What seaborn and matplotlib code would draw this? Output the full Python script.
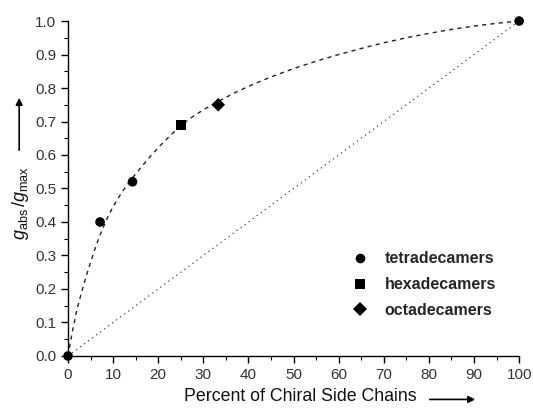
import matplotlib
matplotlib.use("Agg")
import matplotlib.pyplot as plt
import seaborn as sns
import pandas as pd
from matplotlib.ticker import MultipleLocator, FormatStrFormatter

# data
tetra_x = [0, 7.1, 14.3, 100]
tetra_y = [0.0, 0.40, 0.52, 1.0]
hexa_x = [25]
hexa_y = [0.69]
octa_x = [33.3]
octa_y = [0.75]

curve_x = [0, 1, 2, 3, 4, 5, 6, 7, 8, 9, 10, 12, 14, 16, 18, 20, 22.5, 25, 27.5, 30,
           33.3, 37, 41, 45, 50, 55, 60, 65, 70, 75, 80, 85, 90, 95, 100]
curve_y = [0.0, 0.075, 0.14, 0.19, 0.237, 0.28, 0.32, 0.358, 0.39, 0.42, 0.446, 0.49, 0.527,
           0.56, 0.592, 0.622, 0.656, 0.688, 0.713, 0.735, 0.760, 0.786, 0.811, 0.833, 0.858,
           0.880, 0.900, 0.918, 0.935, 0.950, 0.963, 0.975, 0.985, 0.993, 1.0]
diag_x = [0, 100]
diag_y = [0, 1]

series_names = ["tetradecamers", "hexadecamers", "octadecamers"]

sns.set_style("ticks")
plt.rcParams['font.family'] = ['Liberation Sans', 'DejaVu Sans']
plt.rcParams['mathtext.fontset'] = 'custom'
plt.rcParams['mathtext.rm'] = 'Liberation Sans'
plt.rcParams['mathtext.it'] = 'Liberation Sans:italic'

fig = plt.figure(figsize=(5.33, 4.08), dpi=100)
ax = fig.add_axes([0.1276, 0.1275, 0.974 - 0.1276, 0.9485 - 0.1275])

sns.lineplot(x=curve_x, y=curve_y, ax=ax, color="#222222", lw=1.0, linestyle=(0, (3, 3)), sort=False)
sns.lineplot(x=diag_x, y=diag_y, ax=ax, color="#444444", lw=0.9, linestyle=(0, (1, 3)))

pts = pd.DataFrame({
    "x": tetra_x + hexa_x + octa_x,
    "y": tetra_y + hexa_y + octa_y,
    "series": [series_names[0]] * len(tetra_x) + [series_names[1]] * len(hexa_x) + [series_names[2]] * len(octa_x),
})
sns.scatterplot(data=pts, x="x", y="y", style="series",
                markers={series_names[0]: "o", series_names[1]: "s", series_names[2]: "D"},
                s=48, color="black", edgecolor="black", linewidth=0, ax=ax, clip_on=False, zorder=5)

ax.set_xlim(0, 100)
ax.set_ylim(0, 1.0)
ax.xaxis.set_major_locator(MultipleLocator(10))
ax.xaxis.set_minor_locator(MultipleLocator(5))
ax.yaxis.set_major_locator(MultipleLocator(0.1))
ax.yaxis.set_minor_locator(MultipleLocator(0.05))
ax.yaxis.set_major_formatter(FormatStrFormatter('%.1f'))
ax.tick_params(which="major", direction="out", length=5, width=1, labelsize=11, color="black",
               labelcolor="#333333")
ax.tick_params(which="minor", direction="out", length=3, width=0.8, color="black")
for s in ["top", "right"]:
    ax.spines[s].set_visible(False)
for s in ["left", "bottom"]:
    ax.spines[s].set_linewidth(1.0)
    ax.spines[s].set_color("black")

ax.set_xlabel("")
ax.set_ylabel("")
leg = ax.legend(frameon=False, loc="upper left", bbox_to_anchor=(0.58, 0.355), fontsize=11.5,
                handletextpad=0.55, labelspacing=0.67, markerscale=1.0)
for t in leg.get_texts():
    t.set_fontweight("bold")

fig.text(300 / 533, 0.029, "Percent of Chiral Side Chains", ha="center", va="center", fontsize=12.8,
         color="#111111")
ax.annotate("", xy=(478 / 533, 0.021), xytext=(427 / 533, 0.021), xycoords="figure fraction",
            arrowprops=dict(arrowstyle="-|>", color="black", lw=1.2, mutation_scale=10))
fig.text(0.038, 1 - 203 / 408, r"$g_{\mathrm{abs}}\,/g_{\mathrm{max}}$", rotation=90, ha="center",
         va="center", fontsize=13, color="#111111")
ax.annotate("", xy=(0.036, 1 - 95 / 408), xytext=(0.036, 1 - 153 / 408), xycoords="figure fraction",
            arrowprops=dict(arrowstyle="-|>", color="black", lw=1.2, mutation_scale=10))

fig.savefig("out.png", dpi=100)
